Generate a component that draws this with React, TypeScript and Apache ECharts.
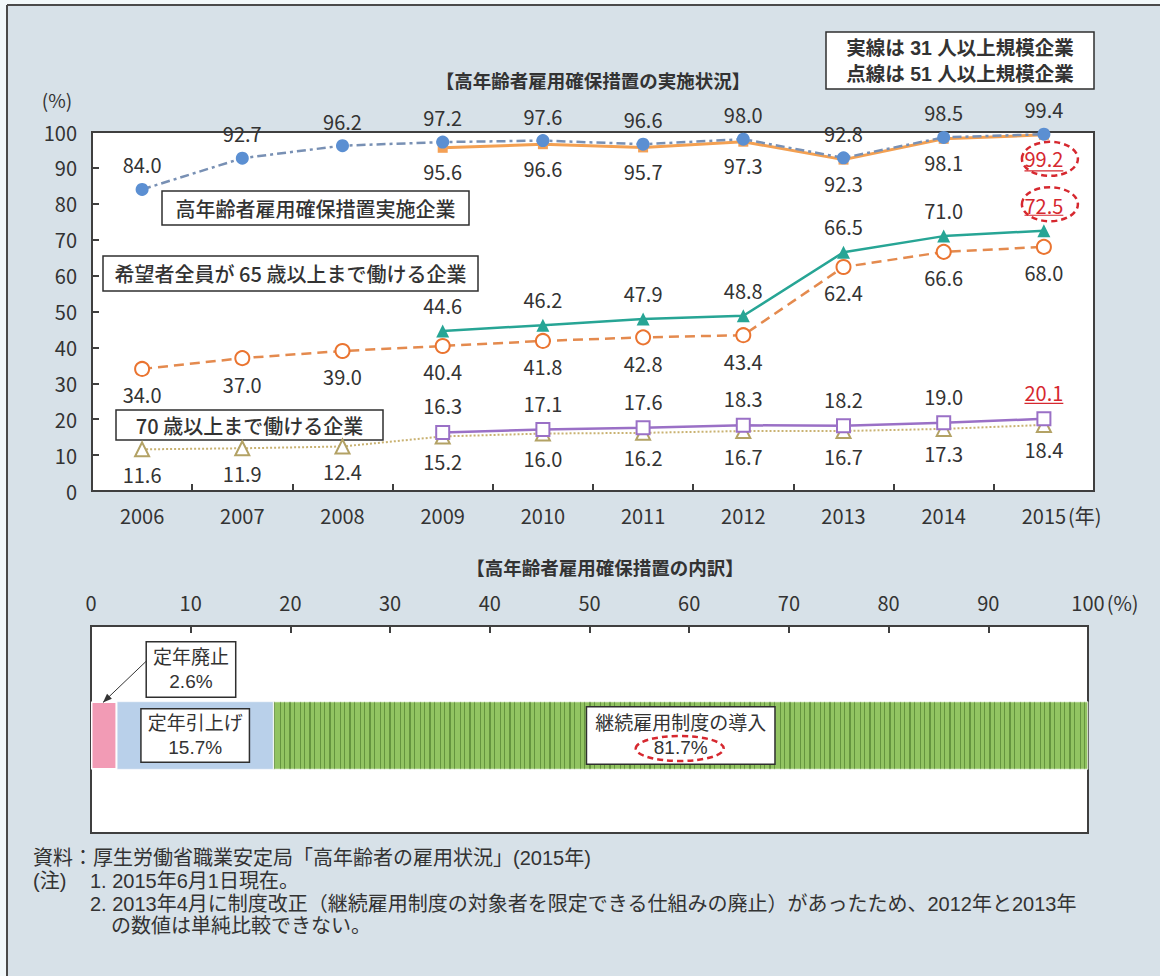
import React, { useEffect, useRef } from 'react';
import * as echarts from 'echarts';

// ---------- data ----------
const years = ['2006', '2007', '2008', '2009', '2010', '2011', '2012', '2013', '2014', '2015'];
// 高年齢者雇用確保措置実施企業
const secure51 = [84.0, 92.7, 96.2, 97.2, 97.6, 96.6, 98.0, 92.8, 98.5, 99.4]; // 点線 (51人以上)
const secure31 = [null, null, null, 95.6, 96.6, 95.7, 97.3, 92.3, 98.1, 99.2]; // 実線 (31人以上)
// 希望者全員が65歳以上まで働ける企業
const all65_31 = [null, null, null, 44.6, 46.2, 47.9, 48.8, 66.5, 71.0, 72.5];
const all65_51 = [34.0, 37.0, 39.0, 40.4, 41.8, 42.8, 43.4, 62.4, 66.6, 68.0];
// 70歳以上まで働ける企業
const age70_31 = [null, null, null, 16.3, 17.1, 17.6, 18.3, 18.2, 19.0, 20.1];
const age70_51 = [11.6, 11.9, 12.4, 15.2, 16.0, 16.2, 16.7, 16.7, 17.3, 18.4];

// 高年齢者雇用確保措置の内訳 (2015)
const breakdownNames = ['定年廃止', '定年引上げ', '継続雇用制度の導入'];
const breakdownValues = [2.6, 15.7, 81.7];

const topTitle = '【高年齢者雇用確保措置の実施状況】';
const bottomTitle = '【高年齢者雇用確保措置の内訳】';
const legendLines = ['実線は 31 人以上規模企業', '点線は 51 人以上規模企業'];
const seriesBoxes = ['高年齢者雇用確保措置実施企業', '希望者全員が 65 歳以上まで働ける企業', '70 歳以上まで働ける企業'];
const noteSource = '資料：厚生労働省職業安定局「高年齢者の雇用状況」(2015年)';
const noteHead = '(注)';
const noteLines = [
  '1. 2015年6月1日現在。',
  '2. 2013年4月に制度改正（継続雇用制度の対象者を限定できる仕組みの廃止）があったため、2012年と2013年',
  'の数値は単純比較できない。',
];

// ---------- style ----------
const FONT = '"Noto Sans CJK JP", "Noto Sans", sans-serif';
// primary Latin font with compact line metrics (CJK glyphs fall back to Noto Sans CJK JP)
const ALT_FONT = '"Liberation Sans", "Noto Sans CJK JP", sans-serif';
const TXT = '#333333';
const AXIS = '#3f3f3f';
const RED = '#d6282f';
const BG = '#d7e1e8';

function measure(text: string, size: number, weight = 'normal', family = FONT) {
  const c = document.createElement('canvas').getContext('2d');
  if (!c) return text.length * size * 0.6;
  c.font = `${weight} ${size}px ${family}`;
  return c.measureText(text).width;
}

function lineSeries(
  name: string,
  data: (number | null)[],
  cfg: {
    symbol: string;
    size: number;
    color: string;
    lineColor: string;
    lineType: any;
    lineWidth: number;
    borderWidth?: number;
    pos: 'top' | 'bottom';
    dist: number;
    redLast?: boolean;
    z: number;
  }
) {
  return {
    type: 'line',
    name,
    xAxisIndex: 0,
    yAxisIndex: 0,
    z: cfg.z,
    data: data.map((v, i) =>
      v == null ? null : cfg.redLast && i === data.length - 1 ? { value: v, label: { color: RED } } : v
    ),
    symbol: cfg.symbol,
    symbolSize: cfg.size,
    connectNulls: false,
    itemStyle: { color: cfg.color, borderWidth: cfg.borderWidth ?? 0, borderColor: cfg.color },
    lineStyle: { color: cfg.lineColor, type: cfg.lineType, width: cfg.lineWidth },
    label: {
      show: true,
      position: cfg.pos,
      distance: cfg.dist,
      fontSize: 20,
      fontFamily: FONT,
      color: TXT,
      formatter: (p: any) => Number(p.value).toFixed(1),
    },
  };
}

function buildOption() {
  const barColors = ['#f29bb5', '#b9d0ea', '#92c462'];
  const barSeries = breakdownNames.map((n, i) => {
    const isFirst = i === 0;
    return {
      type: 'bar',
      name: n,
      stack: 'b',
      xAxisIndex: 2,
      yAxisIndex: 2,
      barWidth: 68,
      data: [breakdownValues[i]],
      itemStyle: {
        color: barColors[i],
        borderColor: '#ffffff',
        borderWidth: isFirst ? 1.5 : 0.5,
        decal:
          i === 2
            ? {
                symbol: 'rect',
                symbolSize: 1,
                color: 'rgba(55,100,28,0.5)',
                dashArrayX: [1, 3, 1, 4, 2, 3, 1, 5],
                dashArrayY: [6, 0],
                rotation: 0,
              }
            : undefined,
      },
      label: {
        show: true,
        position: isFirst ? 'top' : 'inside',
        distance: 5,
        offset: isFirst ? [87, 0] : [0, 0],
        formatter: `${n}\n${breakdownValues[i]}%`,
        fontSize: 19,
        lineHeight: 24,
        fontFamily: ALT_FONT,
        color: TXT,
        backgroundColor: '#ffffff',
        borderColor: '#2f2f2f',
        borderWidth: 1.5,
        padding: i === 0 ? [3, 6] : i === 1 ? [2, 6] : [4, 8],
      },
    };
  });

  const axisLine = { show: true, lineStyle: { color: AXIS, width: 2 } };
  const axisTick = { show: true, inside: true, length: 7, lineStyle: { color: AXIS, width: 2 } };
  const axisLabel = { fontSize: 20, color: TXT, fontFamily: FONT };

  return {
    animation: false,
    backgroundColor: BG,
    textStyle: { fontFamily: FONT },
    grid: [
      { left: 92, top: 132, width: 1002, height: 359, show: true, backgroundColor: '#ffffff', borderColor: AXIS, borderWidth: 2 },
      { left: 91, top: 626, width: 997, height: 207, show: true, backgroundColor: '#ffffff', borderColor: AXIS, borderWidth: 2 },
      { left: 91, top: 638, width: 997, height: 195 },
    ],
    xAxis: [
      {
        type: 'category',
        gridIndex: 0,
        data: years,
        boundaryGap: true,
        axisLine,
        axisTick: { ...axisTick, alignWithLabel: false },
        axisLabel: { ...axisLabel, margin: 14 },
      },
      {
        type: 'value',
        gridIndex: 1,
        position: 'top',
        min: 0,
        max: 100,
        interval: 10,
        axisLine,
        axisTick,
        splitLine: { show: false },
        axisLabel: { ...axisLabel, margin: 14 },
      },
      { type: 'value', gridIndex: 2, min: 0, max: 100, show: false },
    ],
    yAxis: [
      {
        type: 'value',
        gridIndex: 0,
        min: 0,
        max: 100,
        interval: 10,
        axisLine,
        axisTick,
        splitLine: { show: false },
        axisLabel: { ...axisLabel, margin: 15 },
      },
      {
        type: 'category',
        gridIndex: 1,
        data: [''],
        axisLine,
        axisTick: { show: false },
        axisLabel: { show: false },
      },
      { type: 'category', gridIndex: 2, data: ['2015'], show: false },
    ],
    series: [
      lineSeries('70歳以上(51人以上)', age70_51, {
        symbol: 'emptyTriangle', size: 14, color: '#b3a265', lineColor: '#c9b272', lineType: 'dotted', lineWidth: 2,
        borderWidth: 2.5, pos: 'bottom', dist: 7, z: 2,
      }),
      lineSeries('70歳以上(31人以上)', age70_31, {
        symbol: 'emptyRect', size: 13, color: '#9a70c6', lineColor: '#9a70c6', lineType: 'solid', lineWidth: 2.5,
        borderWidth: 3, pos: 'top', dist: 9, redLast: true, z: 3,
      }),
      lineSeries('65歳以上(51人以上)', all65_51, {
        symbol: 'emptyCircle', size: 14, color: '#ea7430', lineColor: '#e48a4e', lineType: [10, 6], lineWidth: 2.5,
        borderWidth: 3, pos: 'bottom', dist: 8, z: 4,
      }),
      lineSeries('65歳以上(31人以上)', all65_31, {
        symbol: 'triangle', size: 13, color: '#27a595', lineColor: '#27a595', lineType: 'solid', lineWidth: 2.5,
        pos: 'top', dist: 9, redLast: true, z: 5,
      }),
      lineSeries('実施企業(31人以上)', secure31, {
        symbol: 'rect', size: 10, color: '#f4a055', lineColor: '#f3a052', lineType: 'solid', lineWidth: 3,
        pos: 'bottom', dist: 9, redLast: true, z: 6,
      }),
      lineSeries('実施企業(51人以上)', secure51, {
        symbol: 'circle', size: 13, color: '#5b8fd2', lineColor: '#7890b4', lineType: [9, 4, 3, 4], lineWidth: 2.5,
        pos: 'top', dist: 8, z: 7,
      }),
      ...barSeries,
    ],
  };
}

function textBox(
  x: number, y: number, w: number, h: number, lines: string[], size: number, weight: any, lh: number, family = FONT
) {
  const children: any[] = [
    {
      type: 'rect',
      shape: { x, y, width: w, height: h },
      style: { fill: '#ffffff', stroke: '#2f2f2f', lineWidth: 1.5 },
    },
  ];
  children.push({
    type: 'text',
    style: {
      text: lines.join('\n'),
      x: x + w / 2,
      y: y + h / 2,
      align: 'center',
      verticalAlign: 'middle',
      fontSize: size,
      lineHeight: lh,
      fontWeight: weight,
      fontFamily: family,
      fill: TXT,
    },
  });
  return { type: 'group', children, z: 50 };
}

function txt(text: string, x: number, y: number, size: number, opts: any = {}) {
  return {
    type: 'text',
    z: 50,
    style: {
      text,
      x,
      y,
      align: opts.align || 'left',
      verticalAlign: 'middle',
      fontSize: size,
      fontWeight: opts.weight || 'normal',
      fontFamily: opts.family || FONT,
      fill: opts.fill || TXT,
    },
  };
}

function buildGraphics(chart: any) {
  const g: any[] = [];
  // outer frame: light strip above/left, dark border lines
  g.push({ type: 'rect', shape: { x: 0, y: 0, width: 1160, height: 5 }, style: { fill: '#f2f8fa' }, z: 1 });
  g.push({ type: 'rect', shape: { x: 0, y: 0, width: 7, height: 976 }, style: { fill: '#f2f8fa' }, z: 1 });
  g.push({ type: 'line', shape: { x1: 7, y1: 5, x2: 1160, y2: 5 }, style: { stroke: '#4a4a4a', lineWidth: 2 }, z: 2 });
  g.push({ type: 'line', shape: { x1: 7, y1: 5, x2: 7, y2: 976 }, style: { stroke: '#4a4a4a', lineWidth: 2 }, z: 2 });

  // titles
  g.push(txt(topTitle, 593, 80, 18.5, { align: 'center', weight: 'bold' }));
  g.push(txt(bottomTitle, 605, 567, 18.5, { align: 'center', weight: 'bold' }));
  g.push(txt('(%)', 57, 99, 19, { align: 'center' }));

  // legend-note box and series boxes
  g.push(textBox(826, 32, 268, 57, legendLines, 19.5, 'bold', 26, ALT_FONT));
  g.push(textBox(162, 191, 307, 34, [seriesBoxes[0]], 20, 500, 24));
  g.push(textBox(103, 256, 375, 35, [seriesBoxes[1]], 20, 500, 24));
  g.push(textBox(116, 410, 267, 30, [seriesBoxes[2]], 20, 500, 24));

  // unit suffixes on axes
  const p2015 = chart.convertToPixel({ gridIndex: 0 }, [years.length - 1, 0]);
  g.push(txt('(年)', p2015[0] + measure(years[years.length - 1], 20) / 2 + 2, 515, 20));
  const p100 = chart.convertToPixel({ gridIndex: 1 }, [100, 0]);
  g.push(txt('(%)', p100[0] + measure('100', 20) / 2 + 2, 602, 20));

  // red highlights on 2015 values
  const last = years.length - 1;
  const pA = chart.convertToPixel({ gridIndex: 0 }, [last, secure31[last]]);
  const pB = chart.convertToPixel({ gridIndex: 0 }, [last, all65_31[last]]);
  const pC = chart.convertToPixel({ gridIndex: 0 }, [last, age70_31[last]]);
  const ell = (cx: number, cy: number, rx: number, ry: number) => ({
    type: 'ellipse',
    z: 60,
    shape: { cx, cy, rx, ry },
    style: { fill: 'none', stroke: RED, lineWidth: 2.5, lineDash: [6, 4] },
  });
  const ul = (cx: number, y: number, w: number) => ({
    type: 'line',
    z: 60,
    shape: { x1: cx - w / 2, y1: y, x2: cx + w / 2, y2: y },
    style: { stroke: RED, lineWidth: 1.2 },
  });
  const wNum = measure('99.2', 20);
  const yA = pA[1] + 5 + 9 + 11;
  g.push(ell(pA[0] + 6, yA - 1, 28, 17));
  g.push(ul(pA[0], yA + 11, wNum));
  const yB = pB[1] - 6.5 - 9 - 11;
  g.push(ell(pB[0] + 6, yB, 28, 17));
  g.push(ul(pB[0], yB + 11, wNum));
  const yC = pC[1] - 6.5 - 9 - 11;
  g.push(ul(pC[0], yC + 11, wNum));

  // bar annotations
  const cumStart: number[] = [];
  breakdownValues.reduce((a, v) => {
    cumStart.push(a);
    return a + v;
  }, 0);
  const pPink = chart.convertToPixel({ gridIndex: 2 }, [breakdownValues[0] / 2, 0]);
  const barTop = pPink[1] - 34;
  const ex = pPink[0] - 1;
  const ey = barTop + 1;
  const sx = ex + 44;
  const sy = ey - 42;
  g.push({ type: 'line', z: 60, shape: { x1: sx, y1: sy, x2: ex, y2: ey }, style: { stroke: '#333', lineWidth: 1 } });
  const dx = ex - sx, dy = ey - sy, len = Math.hypot(dx, dy);
  const ux = dx / len, uy = dy / len;
  const bx = ex - ux * 9, by = ey - uy * 9;
  g.push({
    type: 'polygon',
    z: 60,
    shape: { points: [[ex, ey], [bx - uy * 3.5, by + ux * 3.5], [bx + uy * 3.5, by - ux * 3.5]] },
    style: { fill: '#333' },
  });
  const greenMid = cumStart[2] + breakdownValues[2] / 2;
  const pG = chart.convertToPixel({ gridIndex: 2 }, [greenMid, 0]);
  g.push(ell(pG[0] - 1, pG[1] + 13, 44, 12.5));

  // footnotes
  const FS = 20;
  const o = { family: ALT_FONT };
  const headW = measure(noteHead, FS, 'normal', ALT_FONT);
  g.push(txt(noteSource, 33, 858, FS, o));
  g.push(txt(noteHead, 33, 881, FS, o));
  g.push(txt(noteLines[0], Math.max(90, 33 + headW + 6), 881, FS, o));
  g.push(txt(noteLines[1], 90, 903.5, FS, o));
  g.push(txt(noteLines[2], 111, 926, FS, o));
  return g;
}

export default function App() {
  const ref = useRef<HTMLDivElement>(null);
  useEffect(() => {
    document.body.style.margin = '0';
    const el = ref.current;
    if (!el) return;
    const chart = echarts.init(el, null, { renderer: 'svg' });
    chart.setOption(buildOption() as any);
    chart.setOption({ graphic: buildGraphics(chart) } as any);
    return () => chart.dispose();
  }, []);
  return <div ref={ref} style={{ width: 1160, height: 976 }} />;
}
